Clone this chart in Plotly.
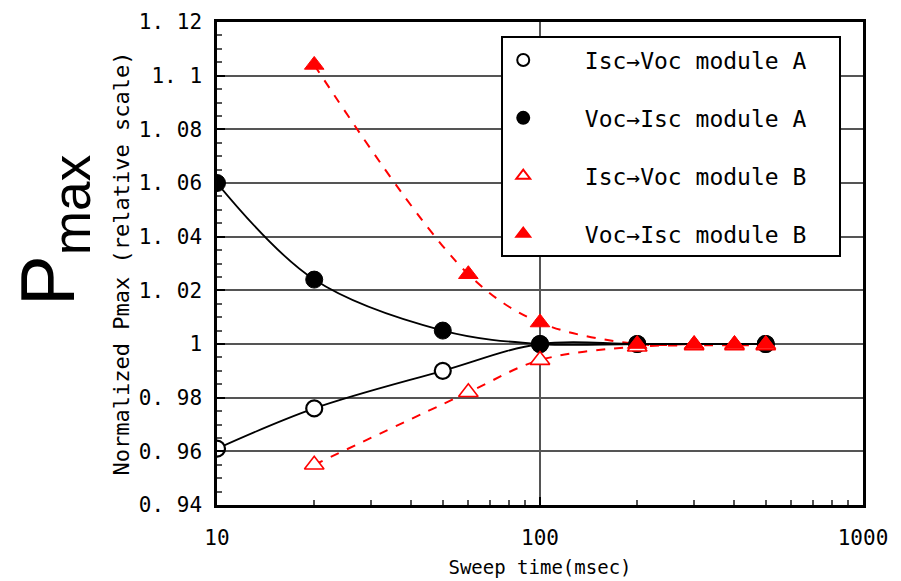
import plotly.graph_objects as go

# Sweep times (msec) and normalized Pmax values
t_a = [10, 20, 50, 100, 200, 500]
isc_voc_a = [0.961, 0.976, 0.990, 1.000, 1.000, 1.000]
voc_isc_a = [1.060, 1.024, 1.005, 1.000, 1.000, 1.000]

t_b = [20, 60, 100, 200, 300, 400, 500]
isc_voc_b = [0.955, 0.982, 0.994, 0.999, 0.9995, 0.9995, 0.9995]
voc_isc_b = [1.104, 1.026, 1.008, 1.000, 1.000, 1.000, 1.000]

y_ticks = [0.94, 0.96, 0.98, 1.0, 1.02, 1.04, 1.06, 1.08, 1.1, 1.12]
y_ticktext = ["0. 94", "0. 96", "0. 98", "1", "1. 02", "1. 04", "1. 06", "1. 08", "1. 1", "1. 12"]
x_ticks = [10, 100, 1000]
x_ticktext = ["10", "100", "1000"]
x_minor = [20, 30, 40, 50, 60, 70, 80, 90, 200, 300, 400, 500, 600, 700, 800, 900]

MONO = "DejaVu Sans Mono"
RED = "#ff0000"
NB = "\u00a0"

fig = go.Figure()

# smooth trend curves (drawn beneath the markers)
for xs, ys in [(t_b, voc_isc_b), (t_b, isc_voc_b)]:
    fig.add_trace(go.Scatter(x=xs, y=ys, mode="lines", line=dict(color=RED, width=2, dash="dash", shape="spline"),
                             showlegend=False, hoverinfo="skip"))
for xs, ys in [(t_a, voc_isc_a), (t_a, isc_voc_a)]:
    fig.add_trace(go.Scatter(x=xs, y=ys, mode="lines", line=dict(color="black", width=1.8, shape="spline"),
                             showlegend=False, hoverinfo="skip"))

# measured points
def label(s):
    return NB * 3 + s + NB * 2

fig.add_trace(go.Scatter(x=t_a, y=isc_voc_a, mode="markers", name=label("Isc→Voc module A"), legendgroup="1",
                         marker=dict(symbol="circle", size=16, color="white", line=dict(color="black", width=2.2))))
fig.add_trace(go.Scatter(x=t_a, y=voc_isc_a, mode="markers", name=label("Voc→Isc module A"), legendgroup="2",
                         marker=dict(symbol="circle", size=17, color="black", line=dict(color="black", width=1))))
fig.add_trace(go.Scatter(x=t_b, y=isc_voc_b, mode="markers", name=label("Isc→Voc module B"), legendgroup="3",
                         marker=dict(symbol="triangle-up", size=17, color="white", line=dict(color=RED, width=1.6))))
fig.add_trace(go.Scatter(x=t_b, y=voc_isc_b, mode="markers", name=label("Voc→Isc module B"), legendgroup="4",
                         marker=dict(symbol="triangle-up", size=17, color=RED, line=dict(color=RED, width=1))))

fig.update_layout(
    width=901, height=581,
    margin=dict(l=217, r=38, t=22, b=76, autoexpand=False),
    paper_bgcolor="white", plot_bgcolor="white",
    font=dict(family=MONO, size=20, color="black"),
    legend=dict(x=0.44, y=0.97, xanchor="left", yanchor="top",
                bgcolor="white", bordercolor="black", borderwidth=2,
                font=dict(family=MONO, size=23), itemsizing="constant",
                tracegroupgap=25, traceorder="grouped"),
    xaxis=dict(type="log", range=[1, 3], tickvals=x_ticks, ticktext=x_ticktext, automargin=False,
               ticks="inside", ticklen=8, tickwidth=1.5, tickcolor="black", ticklabelstandoff=12,
               showline=True, linecolor="black", linewidth=2.5, mirror=True,
               showgrid=True, gridcolor="#555555", gridwidth=1.5,
               minor=dict(tickvals=x_minor, ticks="inside", ticklen=5, tickcolor="#555555", showgrid=False),
               tickfont=dict(family=MONO, size=21),
               title=dict(text="Sweep time(msec)", font=dict(family=MONO, size=19), standoff=12),
               zeroline=False),
    yaxis=dict(range=[0.94, 1.12], tickvals=y_ticks, ticktext=y_ticktext, automargin=False,
               ticks="inside", ticklen=8, tickwidth=1.5, tickcolor="black", ticklabelstandoff=8,
               showline=True, linecolor="black", linewidth=2.5, mirror=True,
               showgrid=True, gridcolor="#555555", gridwidth=1.5,
               minor=dict(dtick=0.005, ticks="inside", ticklen=5, tickcolor="#555555", showgrid=False),
               tickfont=dict(family=MONO, size=21),
               title=dict(text="Normalized Pmax (relative scale)", font=dict(family=MONO, size=22), standoff=4),
               zeroline=False),
    annotations=[dict(text="P<sub>max</sub>", xref="paper", yref="paper", x=-0.255, y=0.57,
                      xanchor="center", yanchor="middle", textangle=-90, showarrow=False,
                      font=dict(family="Liberation Sans", size=76, color="black"))],
)

fig.write_html("out.html")
